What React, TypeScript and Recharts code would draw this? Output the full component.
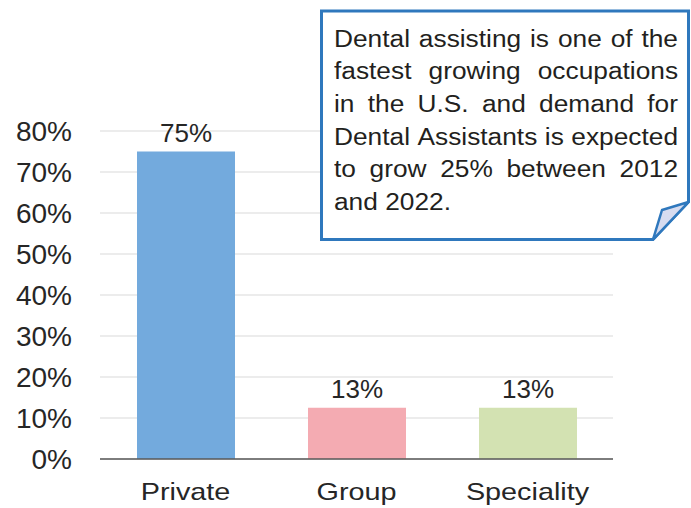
import React from 'react';
import { BarChart, Bar, XAxis, YAxis, CartesianGrid, Cell, LabelList } from 'recharts';

const categories = ['Private', 'Group', 'Speciality'];
const shares = [75, 12.5, 12.5];
const yTicks = [0, 10, 20, 30, 40, 50, 60, 70, 80];
const noteLines = [
  'Dental assisting is one of the',
  'fastest growing occupations',
  'in the U.S. and demand for',
  'Dental Assistants is expected',
  'to grow 25% between 2012',
  'and 2022.',
];

const COLORS = ['#73aadd', '#f4abb2', '#d3e2b2'];
const FONT = '"Liberation Sans", Arial, Helvetica, sans-serif';

const data = categories.map((name, i) => ({ name, value: shares[i] }));

const XTick = (props: any) => {
  const { x, y, payload } = props;
  return (
    <text
      transform={`translate(${x},${y + 41}) scale(1.2,1)`}
      textAnchor="middle"
      fontSize={24}
      fontFamily={FONT}
      fill="#262626"
    >
      {payload.value}
    </text>
  );
};

export default function App() {
  return (
    <div style={{ position: 'absolute', left: 0, top: 0, width: 691, height: 508, background: '#fff', overflow: 'hidden' }}>
      <BarChart
        width={691}
        height={508}
        data={data}
        margin={{ top: 131, right: 78, left: 0, bottom: 0 }}
      >
        <CartesianGrid vertical={false} stroke="#d9d9d9" strokeWidth={1} />
        <YAxis
          width={100}
          domain={[0, 80]}
          ticks={yTicks}
          interval={0}
          axisLine={false}
          tickLine={false}
          tickSize={0}
          tickMargin={28}
          tickFormatter={(v: number) => `${v}%`}
          tick={{ fontSize: 28, fontFamily: FONT, fill: '#262626' }}
        />
        <XAxis
          dataKey="name"
          height={49}
          axisLine={{ stroke: '#595959', strokeWidth: 1.5 }}
          tickLine={false}
          tickSize={0}
          tickMargin={0}
          interval={0}
          tick={<XTick />}
        />
        <Bar dataKey="value" barSize={98} isAnimationActive={false}>
          {data.map((d, i) => (
            <Cell key={d.name} fill={COLORS[i]} />
          ))}
          <LabelList
            dataKey="value"
            position="top"
            offset={10}
            formatter={(v: number) => `${Math.round(v)}%`}
            style={{ fontSize: 26, fontFamily: FONT, fill: '#262626' }}
          />
        </Bar>
      </BarChart>

      <svg
        width={691}
        height={508}
        style={{ position: 'absolute', left: 0, top: 0, pointerEvents: 'none' }}
      >
        <path
          d="M321.5 11 H688.5 V202 L653 239.5 H321.5 Z"
          fill="#ffffff"
          stroke="#2f78bd"
          strokeWidth={3}
          strokeLinejoin="miter"
        />
        <path
          d="M653 239.5 L662 210 L688.5 202 Z"
          fill="#d7dcf0"
          stroke="#2f78bd"
          strokeWidth={2.5}
          strokeLinejoin="round"
        />
      </svg>

      <div
        style={{
          position: 'absolute',
          left: 334,
          top: 22.5,
          width: 301,
          transform: 'scaleX(1.143)',
          transformOrigin: '0 0',
          fontFamily: FONT,
          fontSize: 23,
          lineHeight: '32.7px',
          color: '#231f20',
        }}
      >
        {noteLines.map((line, i) => {
          const last = i === noteLines.length - 1;
          return (
            <div
              key={i}
              style={{
                display: 'flex',
                justifyContent: last ? 'flex-start' : 'space-between',
                whiteSpace: 'pre',
                height: 32.7,
              }}
            >
              {last
                ? <span>{line}</span>
                : line.split(' ').map((w, j) => <span key={j}>{w}</span>)}
            </div>
          );
        })}
      </div>
    </div>
  );
}
